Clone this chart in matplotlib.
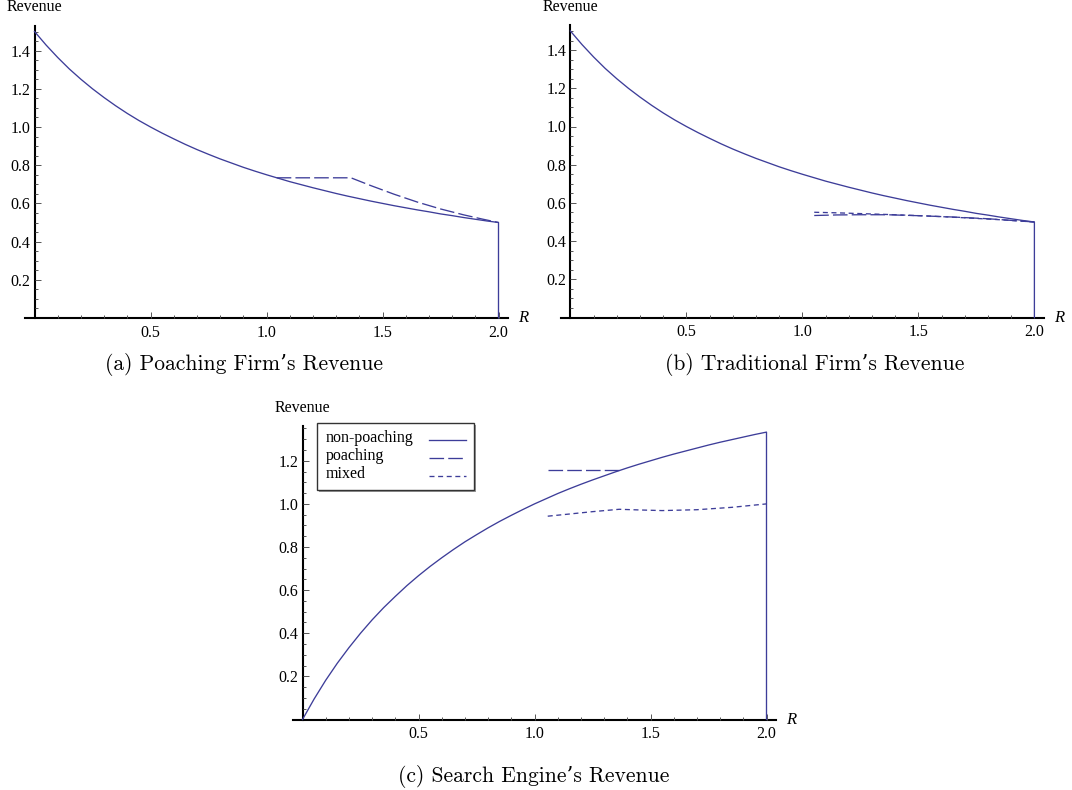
import matplotlib
matplotlib.use("Agg")
import matplotlib.pyplot as plt
from matplotlib.transforms import Affine2D
from matplotlib.patches import Rectangle
from matplotlib.lines import Line2D
from matplotlib.ticker import FixedLocator, FuncFormatter

plt.rcParams['lines.scale_dashes'] = False
plt.rcParams['font.family'] = ['Liberation Serif', 'DejaVu Serif']
plt.rcParams['font.size'] = 11.5

# ---------------- data ----------------
R_grid = [0.00, 0.05, 0.10, 0.15, 0.20, 0.25, 0.30, 0.35, 0.40, 0.45,
          0.50, 0.55, 0.60, 0.65, 0.70, 0.75, 0.80, 0.85, 0.90, 0.95,
          1.00, 1.05, 1.10, 1.15, 1.20, 1.25, 1.30, 1.35, 1.40, 1.45,
          1.50, 1.55, 1.60, 1.65, 1.70, 1.75, 1.80, 1.85, 1.90, 1.95,
          2.00, 2.00]

poacher_nonpoaching = [1.500, 1.429, 1.364, 1.304, 1.250, 1.200, 1.154, 1.111, 1.071, 1.034,
                       1.000, 0.968, 0.938, 0.909, 0.882, 0.857, 0.833, 0.811, 0.789, 0.769,
                       0.750, 0.732, 0.714, 0.698, 0.682, 0.667, 0.652, 0.638, 0.625, 0.612,
                       0.600, 0.588, 0.577, 0.566, 0.556, 0.545, 0.536, 0.526, 0.517, 0.508,
                       0.500, 0.000]
poacher_poaching_R = [1.044, 1.20, 1.364, 1.45, 1.55, 1.65, 1.75, 1.85, 1.93, 2.00]
poacher_poaching = [0.734, 0.734, 0.734, 0.693, 0.648, 0.607, 0.571, 0.540, 0.518, 0.500]

traditional_nonpoaching = [1.500, 1.429, 1.364, 1.304, 1.250, 1.200, 1.154, 1.111, 1.071, 1.034,
                           1.000, 0.968, 0.938, 0.909, 0.882, 0.857, 0.833, 0.811, 0.789, 0.769,
                           0.750, 0.732, 0.714, 0.698, 0.682, 0.667, 0.652, 0.638, 0.625, 0.612,
                           0.600, 0.588, 0.577, 0.566, 0.556, 0.545, 0.536, 0.526, 0.517, 0.508,
                           0.500, 0.000]
traditional_poaching_R = [1.051, 1.15, 1.25, 1.364, 1.50, 1.65, 1.80, 2.00]
traditional_poaching = [0.534, 0.537, 0.538, 0.538, 0.533, 0.526, 0.517, 0.500]
traditional_mixed_R = [1.051, 1.15, 1.25, 1.40, 1.55, 1.70, 1.85, 2.00]
traditional_mixed = [0.551, 0.548, 0.544, 0.538, 0.531, 0.522, 0.512, 0.500]

engine_nonpoaching = [0.000, 0.095, 0.182, 0.261, 0.333, 0.400, 0.462, 0.519, 0.571, 0.621,
                      0.667, 0.710, 0.750, 0.788, 0.824, 0.857, 0.889, 0.919, 0.947, 0.974,
                      1.000, 1.024, 1.048, 1.070, 1.091, 1.111, 1.130, 1.149, 1.167, 1.184,
                      1.200, 1.216, 1.231, 1.245, 1.259, 1.273, 1.286, 1.298, 1.310, 1.322,
                      1.333, 0.000]
engine_poaching_R = [1.057, 1.365]
engine_poaching = [1.155, 1.155]
engine_mixed_R = [1.057, 1.15, 1.25, 1.365, 1.45, 1.55, 1.70, 1.85, 2.00]
engine_mixed = [0.943, 0.953, 0.964, 0.975, 0.972, 0.969, 0.973, 0.984, 1.000]

x_major = [0.5, 1.0, 1.5, 2.0]
y_major_top = [0.2, 0.4, 0.6, 0.8, 1.0, 1.2, 1.4]
y_major_bottom = [0.2, 0.4, 0.6, 0.8, 1.0, 1.2]
legend_labels = ["non-poaching", "poaching", "mixed"]
captions = ["(a) Poaching Firm\u2019s Revenue", "(b) Traditional Firm\u2019s Revenue",
            "(c) Search Engine\u2019s Revenue"]

# ---------------- style ----------------
LINE = '#3d3d99'
LW = 0.95
LONG = (0, (10.5, 3.0))
SHORT = (0, (3.6, 2.6))

W, H = 1072, 790
fig = plt.figure(figsize=(W / 100, H / 100), dpi=100)
fig.patch.set_facecolor('white')
pxT = Affine2D().scale(1 / W, -1 / H).translate(0, 1) + fig.transFigure


def make_panel(ox, oy, sx, sy, xlim, ylim, yticks):
    left = ox + xlim[0] * sx
    right = ox + xlim[1] * sx
    top = oy - ylim[1] * sy
    bottom = oy - ylim[0] * sy
    ax = fig.add_axes([left / W, 1 - bottom / H, (right - left) / W, (bottom - top) / H])
    ax.set_xlim(xlim)
    ax.set_ylim(ylim)
    ax.patch.set_alpha(0)
    for s in ['top', 'right']:
        ax.spines[s].set_visible(False)
    ax.spines['left'].set_position(('data', 0))
    ax.spines['bottom'].set_position(('data', 0))
    ax.spines['left'].set_bounds(0, ylim[1])
    for s in ['left', 'bottom']:
        ax.spines[s].set_linewidth(1.5)
        ax.spines[s].set_color('black')
        ax.spines[s].set_zorder(1)
    ax.xaxis.set_major_locator(FixedLocator(x_major))
    ax.xaxis.set_minor_locator(FixedLocator([k / 10 for k in range(1, 21) if k % 5]))
    ax.yaxis.set_major_locator(FixedLocator(yticks))
    ax.yaxis.set_minor_locator(FixedLocator([k * 0.05 for k in range(1, 40)
                                             if k % 4 and k * 0.05 < ylim[1]]))
    fmt = FuncFormatter(lambda v, p: f"{v:.1f}")
    ax.xaxis.set_major_formatter(fmt)
    ax.yaxis.set_major_formatter(fmt)
    ax.tick_params(which='both', direction='in', color='#555555', width=0.7)
    ax.tick_params(which='major', length=4.0)
    ax.tick_params(which='minor', length=2.2)
    ax.tick_params(axis='x', pad=5)
    ax.tick_params(axis='y', pad=3)
    ax.annotate('Revenue', xy=(0, ylim[1]), xytext=(0, 13.5), textcoords='offset points',
                ha='center', va='center', fontsize=11.5, annotation_clip=False)
    ax.annotate('R', xy=(xlim[1], 0), xytext=(11, 0), textcoords='offset points',
                ha='center', va='center', fontsize=12, style='italic', annotation_clip=False)
    return ax


SX = 232.0
axA = make_panel(34.5, 318.0, SX, 191.0, (-0.04, 2.04), (-0.03, 1.53), y_major_top)
axB = make_panel(570.4, 317.5, SX, 191.0, (-0.04, 2.04), (-0.03, 1.53), y_major_top)
axC = make_panel(302.5, 719.5, SX, 215.6, (-0.04, 2.04), (-0.0267, 1.36), y_major_bottom)

# (a)
axA.plot(R_grid, poacher_nonpoaching, color=LINE, lw=LW, clip_on=False, zorder=3)
axA.plot(poacher_poaching_R, poacher_poaching, color=LINE, lw=LW, linestyle=LONG, zorder=3)
# (b)
axB.plot(R_grid, traditional_nonpoaching, color=LINE, lw=LW, clip_on=False, zorder=3)
axB.plot(traditional_poaching_R, traditional_poaching, color=LINE, lw=LW, linestyle=LONG, zorder=3)
axB.plot(traditional_mixed_R, traditional_mixed, color=LINE, lw=LW, linestyle=SHORT, zorder=3)
# (c)
axC.plot(R_grid, engine_nonpoaching, color=LINE, lw=LW, clip_on=False, zorder=3)
axC.plot(engine_poaching_R, engine_poaching, color=LINE, lw=LW, linestyle=LONG, zorder=3)
axC.plot(engine_mixed_R, engine_mixed, color=LINE, lw=LW, linestyle=SHORT, zorder=3)

# legend for (c), Mathematica-style table: labels left, samples in a column
box = (317, 423, 157, 67)
fig.patches.append(Rectangle((box[0] + 2, box[1] + 2), box[2], box[3], transform=pxT,
                             facecolor='#9a9a9a', edgecolor='none', zorder=5))
fig.patches.append(Rectangle((box[0], box[1]), box[2], box[3], transform=pxT,
                             facecolor='white', edgecolor='#333333', lw=1.0, zorder=6))
styles = ['-', LONG, SHORT]
for i, (lab, ls) in enumerate(zip(legend_labels, styles)):
    yc = 438 + 18 * i
    fig.text(326 / W, 1 - yc / H, lab, ha='left', va='center', fontsize=11.5, zorder=7)
    fig.lines.append(Line2D([429, 466], [yc + 1.5, yc + 1.5], transform=pxT, color=LINE,
                            lw=LW, linestyle=ls, zorder=7))

# captions (Computer Modern, with fallback for the typographic apostrophe)
cap_font = dict(family=['cmr10', 'DejaVu Serif'], fontsize=15.5, ha='center', va='center')
fig.text(244 / W, 1 - 365 / H, captions[0], **cap_font)
fig.text(815 / W, 1 - 365 / H, captions[1], **cap_font)
fig.text(534 / W, 1 - 776 / H, captions[2], **cap_font)

fig.savefig('out.png', dpi=100, facecolor='white')
